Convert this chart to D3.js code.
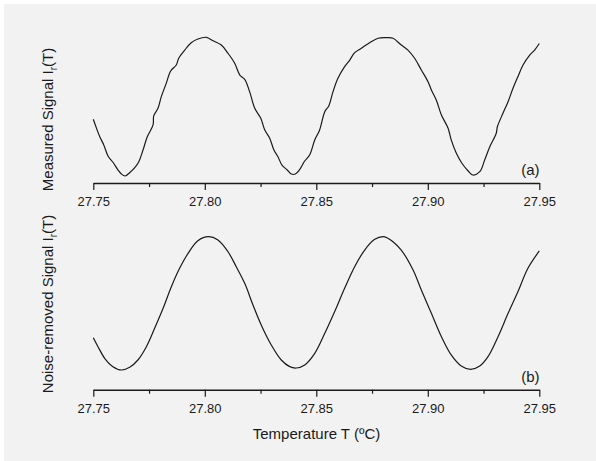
<!DOCTYPE html>
<html>
<head>
<meta charset="utf-8">
<script src="https://cdn.jsdelivr.net/npm/d3@7/dist/d3.min.js"></script>
<style>
  html, body { margin: 0; padding: 0; background: #fff; }
  svg { display: block; font-family: "Liberation Sans", Arial, sans-serif; }
</style>
</head>
<body>
<div id="chart"></div>
<script>
// measured signal, panel (a) - temperature (°C) and normalised intensity
const tempA = [
  27.7500, 27.7509, 27.7529, 27.7547, 27.7566, 27.7588, 27.7611, 27.7626, 27.7643, 27.7663,
  27.7686, 27.7704, 27.7723, 27.7742, 27.7768, 27.7771, 27.7790, 27.7805, 27.7827, 27.7847,
  27.7872, 27.7883, 27.7910, 27.7939, 27.7969, 27.8007, 27.8037, 27.8074, 27.8104, 27.8134,
  27.8157, 27.8179, 27.8201, 27.8224, 27.8251, 27.8269, 27.8291, 27.8310, 27.8328, 27.8346,
  27.8370, 27.8388, 27.8406, 27.8426, 27.8448, 27.8470, 27.8493, 27.8515, 27.8538, 27.8556,
  27.8575, 27.8597, 27.8627, 27.8650, 27.8672, 27.8702, 27.8739, 27.8777, 27.8814, 27.8844,
  27.8881, 27.8911, 27.8941, 27.8971, 27.9001, 27.9016, 27.9038, 27.9061, 27.9091, 27.9105,
  27.9128, 27.9153, 27.9180, 27.9202, 27.9233, 27.9255, 27.9278, 27.9307, 27.9312, 27.9337,
  27.9360, 27.9382, 27.9404, 27.9427, 27.9457, 27.9479, 27.9500
];
const signalA = [
  0.409, 0.368, 0.283, 0.224, 0.144, 0.099, 0.043, 0.014, 0.000, 0.024,
  0.060, 0.103, 0.187, 0.283, 0.368, 0.433, 0.488, 0.572, 0.668, 0.757,
  0.800, 0.849, 0.908, 0.961, 0.988, 1.000, 0.975, 0.944, 0.885, 0.813,
  0.728, 0.697, 0.608, 0.488, 0.416, 0.332, 0.272, 0.187, 0.139, 0.079,
  0.043, 0.014, 0.014, 0.048, 0.108, 0.151, 0.260, 0.332, 0.464, 0.505,
  0.608, 0.704, 0.788, 0.836, 0.889, 0.921, 0.961, 0.993, 0.997, 0.993,
  0.944, 0.908, 0.849, 0.764, 0.680, 0.620, 0.548, 0.440, 0.344, 0.260,
  0.164, 0.092, 0.038, 0.007, 0.031, 0.115, 0.211, 0.308, 0.355, 0.452,
  0.536, 0.632, 0.716, 0.800, 0.872, 0.908, 0.955
];

// noise-removed signal, panel (b)
const tempB = [
  27.7500, 27.7521, 27.7551, 27.7588, 27.7626, 27.7663, 27.7700, 27.7738, 27.7775, 27.7813,
  27.7850, 27.7887, 27.7925, 27.7969, 27.8017, 27.8059, 27.8104, 27.8141, 27.8179, 27.8216,
  27.8253, 27.8298, 27.8343, 27.8381, 27.8410, 27.8448, 27.8493, 27.8538, 27.8582, 27.8627,
  27.8672, 27.8717, 27.8762, 27.8799, 27.8821, 27.8844, 27.8881, 27.8934, 27.8971, 27.9016,
  27.9061, 27.9105, 27.9150, 27.9192, 27.9233, 27.9270, 27.9315, 27.9360, 27.9404, 27.9449,
  27.9500
];
const signalB = [
  0.242, 0.175, 0.088, 0.025, 0.000, 0.020, 0.075, 0.175, 0.313, 0.463,
  0.625, 0.763, 0.875, 0.970, 1.000, 0.975, 0.887, 0.775, 0.650, 0.488,
  0.338, 0.188, 0.075, 0.025, 0.015, 0.038, 0.125, 0.275, 0.437, 0.613,
  0.775, 0.900, 0.980, 1.000, 0.988, 0.962, 0.900, 0.750, 0.600, 0.425,
  0.250, 0.113, 0.030, 0.005, 0.030, 0.100, 0.250, 0.425, 0.587, 0.763,
  0.893
];

const majorTicks = [27.75, 27.80, 27.85, 27.90, 27.95];
const minorTicks = [27.775, 27.825, 27.875, 27.925];

const width = 596, height = 461;
const ink = '#1a1a1a';

const svg = d3.select('#chart').append('svg')
  .attr('width', width)
  .attr('height', height);

svg.append('rect')
  .attr('x', 4).attr('y', 4)
  .attr('width', width - 4).attr('height', height - 4)
  .attr('fill', '#f2f2f2');

const x = d3.scaleLinear().domain([27.75, 27.95]).range([93.3, 539.3]);

// one panel: signal line, x axis, side label and letter
function drawPanel(temps, values, opts) {
  const y = d3.scaleLinear().domain([0, 1]).range([opts.yBottom, opts.yTop]);
  const pts = temps.map((t, i) => [t, values[i]]);

  const line = d3.line()
    .x(d => x(d[0]))
    .y(d => y(d[1]))
    .curve(d3.curveCatmullRom.alpha(0.5));

  svg.append('path')
    .datum(pts)
    .attr('d', line)
    .attr('fill', 'none')
    .attr('stroke', ink)
    .attr('stroke-width', 1.2)
    .attr('stroke-linejoin', 'round');

  const g = svg.append('g').attr('transform', `translate(0,${opts.axisY})`);

  // minor ticks
  g.append('g')
    .call(d3.axisBottom(x).tickValues(minorTicks).tickSize(4).tickSizeOuter(0).tickFormat(''))
    .call(s => s.select('.domain').remove())
    .call(s => s.selectAll('line').attr('stroke', ink).attr('stroke-width', 1.2));

  g.append('g')
    .call(d3.axisBottom(x).tickValues(majorTicks).tickSize(7).tickSizeOuter(0)
      .tickPadding(7).tickFormat(d3.format('.2f')))
    .call(s => s.select('.domain').attr('stroke', ink).attr('stroke-width', 1.4))
    .call(s => s.selectAll('line').attr('stroke', ink).attr('stroke-width', 1.2))
    .call(s => s.selectAll('text')
      .attr('fill', ink)
      .style('font-size', '13px')
      .style('font-family', '"Liberation Sans", Arial, sans-serif'));

  // rotated y label with subscript r
  const lab = svg.append('text')
    .attr('transform', `translate(52.5,${opts.labelY}) rotate(-90)`)
    .attr('text-anchor', 'middle')
    .attr('fill', ink)
    .style('font-size', '15px');
  lab.append('tspan').text(opts.label + ' I');
  lab.append('tspan').attr('dy', 4).style('font-size', '10px').text('r');
  lab.append('tspan').attr('dy', -4).text('(T)');

  svg.append('text')
    .attr('x', 539.5)
    .attr('y', opts.letterY)
    .attr('text-anchor', 'end')
    .attr('fill', ink)
    .style('font-size', '15px')
    .text(opts.letter);
}

drawPanel(tempA, signalA, {
  yTop: 37.3, yBottom: 176, axisY: 183,
  label: 'Measured Signal', labelY: 119.5, letter: '(a)', letterY: 175
});

drawPanel(tempB, signalB, {
  yTop: 236.7, yBottom: 370, axisY: 389.7,
  label: 'Noise-removed Signal', labelY: 304, letter: '(b)', letterY: 382
});

svg.append('text')
  .attr('x', 316.5)
  .attr('y', 438.5)
  .attr('text-anchor', 'middle')
  .attr('fill', ink)
  .style('font-size', '15px')
  .text('Temperature T (ºC)');
</script>
</body>
</html>
